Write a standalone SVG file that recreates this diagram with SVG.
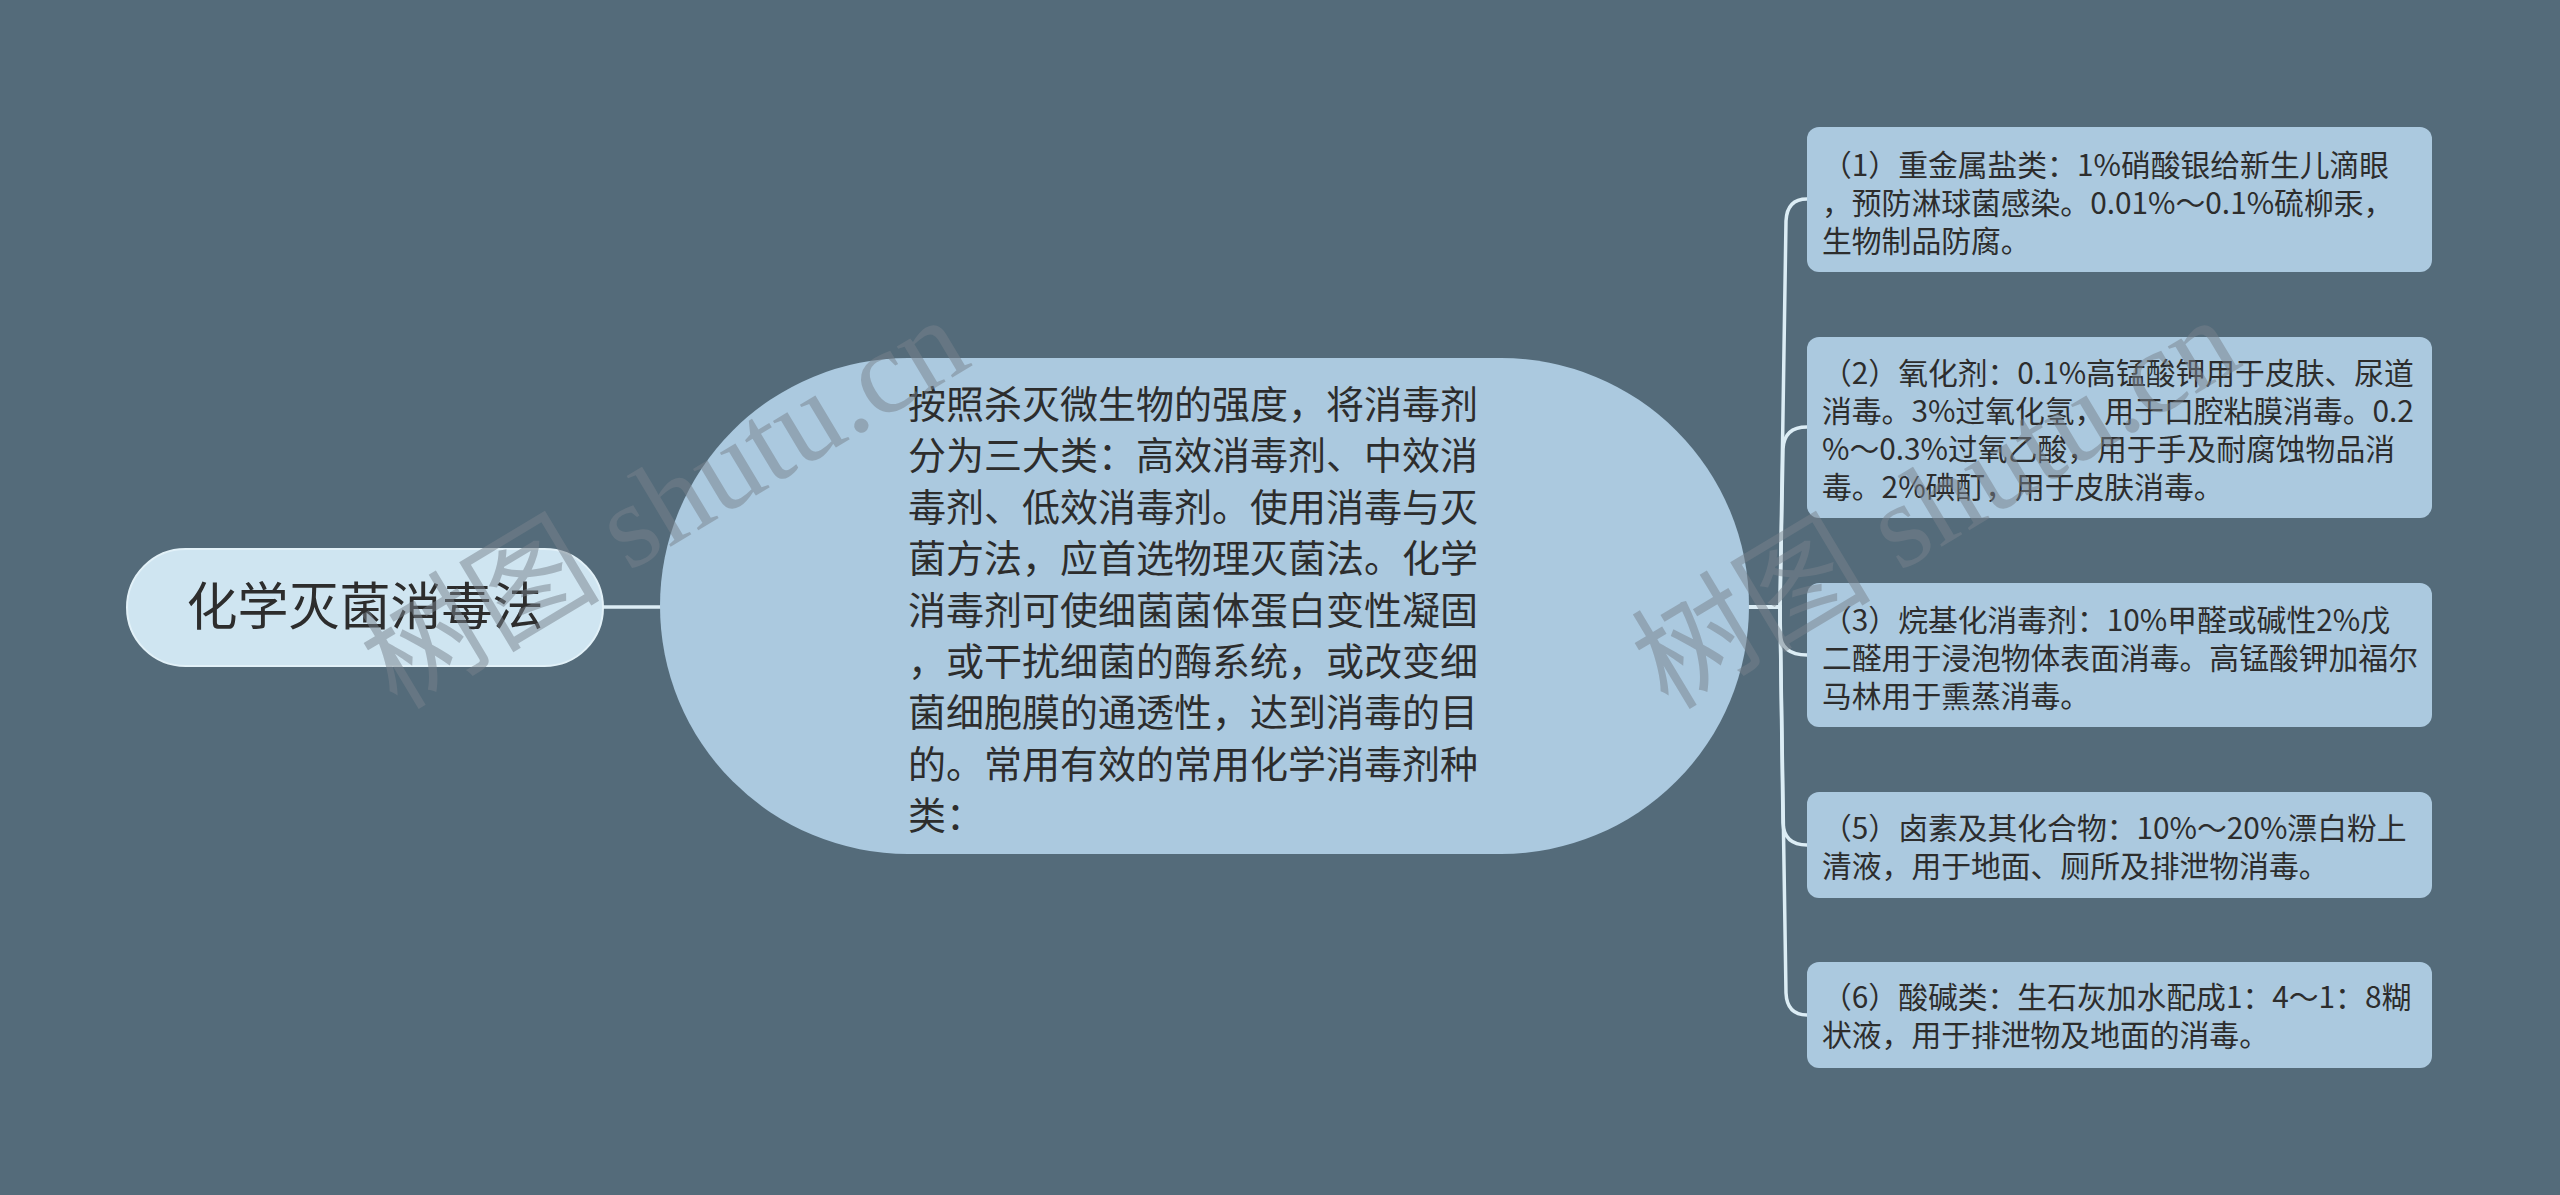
<svg xmlns="http://www.w3.org/2000/svg" width="2560" height="1195" viewBox="0 0 2560 1195">
<style>
.bg{fill:#546b7a}
.root{fill:#cfe5f1;stroke:#e2f1f8;stroke-width:2}
.main{fill:#abc9df}
.leaf{fill:#abc9df}
.t{font-family:"Noto Sans CJK SC","Noto Sans",sans-serif;fill:#2d2d2d}
.rt{font-size:51px}
.mt{font-size:38px}
.lt{font-size:29.8px}
.conn{fill:none;stroke:#dcedf5;stroke-width:3.5;stroke-linecap:round}
.wm{font-family:"Liberation Serif","Noto Sans CJK SC",serif;font-size:120px;fill:#78828c;opacity:0.5}
</style>
<rect class="bg" x="0" y="0" width="2560" height="1195"/>
<g id="connectors">
<line class="conn" x1="603" y1="607" x2="660" y2="607"/>
<path class="conn" d="M1749,607 H1780 L1786,221 Q1787,199 1807,199"/>
<path class="conn" d="M1749,607 H1780 L1783,449 Q1784,427 1807,427"/>
<path class="conn" d="M1749,607 H1780 L1780,633 Q1781,655 1807,655"/>
<path class="conn" d="M1749,607 H1780 L1783,823 Q1784,845 1807,845"/>
<path class="conn" d="M1749,607 H1780 L1786,993 Q1787,1015 1807,1015"/>
</g>
<g id="root">
<rect class="root" x="127" y="549" width="476" height="117" rx="58.5"/>
<text class="t rt" x="365" y="625" text-anchor="middle">化学灭菌消毒法</text>
</g>
<g id="main">
<rect class="main" x="660" y="358" width="1089" height="496" rx="248"/>
<text class="t mt" x="908">
<tspan x="908" y="418">按照杀灭微生物的强度，将消毒剂</tspan>
<tspan x="908" y="469.4">分为三大类：高效消毒剂、中效消</tspan>
<tspan x="908" y="520.8">毒剂、低效消毒剂。使用消毒与灭</tspan>
<tspan x="908" y="572.2">菌方法，应首选物理灭菌法。化学</tspan>
<tspan x="908" y="623.6">消毒剂可使细菌菌体蛋白变性凝固</tspan>
<tspan x="908" y="675">，或干扰细菌的酶系统，或改变细</tspan>
<tspan x="908" y="726.4">菌细胞膜的通透性，达到消毒的目</tspan>
<tspan x="908" y="777.8">的。常用有效的常用化学消毒剂种</tspan>
<tspan x="908" y="829.2">类：</tspan>
</text>
</g>
<g id="leaf1">
<rect class="leaf" x="1807" y="127" width="625" height="145" rx="12"/>
<text class="t lt">
<tspan x="1822" y="176">（1）重金属盐类：1%硝酸银给新生儿滴眼</tspan>
<tspan x="1822" y="214">，预防淋球菌感染。0.01%～0.1%硫柳汞，</tspan>
<tspan x="1822" y="252">生物制品防腐。</tspan>
</text>
</g>
<g id="leaf2">
<rect class="leaf" x="1807" y="337" width="625" height="181" rx="12"/>
<text class="t lt">
<tspan x="1822" y="384">（2）氧化剂：0.1%高锰酸钾用于皮肤、尿道</tspan>
<tspan x="1822" y="422">消毒。3%过氧化氢，用于口腔粘膜消毒。0.2</tspan>
<tspan x="1822" y="460">%～0.3%过氧乙酸，用于手及耐腐蚀物品消</tspan>
<tspan x="1822" y="498">毒。2%碘酊，用于皮肤消毒。</tspan>
</text>
</g>
<g id="leaf3">
<rect class="leaf" x="1807" y="583" width="625" height="144" rx="12"/>
<text class="t lt">
<tspan x="1822" y="631">（3）烷基化消毒剂：10%甲醛或碱性2%戊</tspan>
<tspan x="1822" y="669">二醛用于浸泡物体表面消毒。高锰酸钾加福尔</tspan>
<tspan x="1822" y="707">马林用于熏蒸消毒。</tspan>
</text>
</g>
<g id="leaf5">
<rect class="leaf" x="1807" y="792" width="625" height="106" rx="12"/>
<text class="t lt">
<tspan x="1822" y="839">（5）卤素及其化合物：10%～20%漂白粉上</tspan>
<tspan x="1822" y="877">清液，用于地面、厕所及排泄物消毒。</tspan>
</text>
</g>
<g id="leaf6">
<rect class="leaf" x="1807" y="962" width="625" height="106" rx="12"/>
<text class="t lt">
<tspan x="1822" y="1008">（6）酸碱类：生石灰加水配成1：4～1：8糊</tspan>
<tspan x="1822" y="1046">状液，用于排泄物及地面的消毒。</tspan>
</text>
</g>
<g id="watermarks">
<text class="wm" transform="translate(397,711) rotate(-31)">树图 shutu.cn</text>
<text class="wm" transform="translate(1668,711) rotate(-31)">树图 shutu.cn</text>
</g>
</svg>
